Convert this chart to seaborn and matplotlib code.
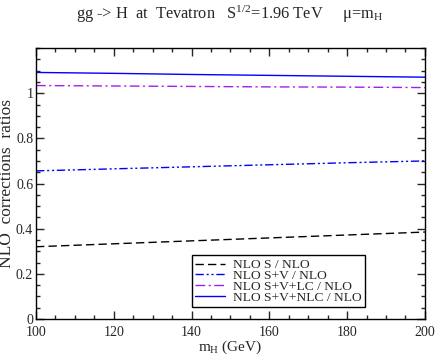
import pandas as pd
import numpy as np
import matplotlib
matplotlib.use("Agg")
import matplotlib.pyplot as plt
import seaborn as sns
from matplotlib.ticker import MultipleLocator

# Data
m_h = [100, 120, 140, 160, 180, 200]
nlo_s = [0.320, 0.333, 0.346, 0.359, 0.372, 0.385]
nlo_sv = [0.656, 0.665, 0.674, 0.683, 0.692, 0.700]
nlo_svlc = [1.034, 1.032, 1.030, 1.028, 1.027, 1.025]
nlo_svnlc = [1.092, 1.088, 1.083, 1.079, 1.075, 1.071]

labels = ['NLO S / NLO', 'NLO S+V / NLO', 'NLO S+V+LC / NLO', 'NLO S+V+NLC / NLO']
colors = ['black', '#0000ff', '#a020f0', '#0000ff']
dashes = [(6, 3), (6, 2, 1.5, 2, 1.5, 2), (7, 2.5, 1.5, 2.5), ()]

sns.set_style("ticks")
plt.rcParams['font.family'] = ['Liberation Serif', 'DejaVu Serif']
plt.rcParams['mathtext.fontset'] = 'custom'
plt.rcParams['mathtext.rm'] = 'Liberation Serif'
plt.rcParams['mathtext.it'] = 'Liberation Serif:italic'

fig = plt.figure(figsize=(4.36, 3.56), dpi=100)
ax = fig.add_axes([0.0826, 0.104, 0.892, 0.761])

series = [nlo_s, nlo_sv, nlo_svlc, nlo_svnlc]
for vals, lab, col, dsh in zip(series, labels, colors, dashes):
    sns.lineplot(x=m_h, y=vals, ax=ax, color=col, label=lab, linewidth=1.0)
    ln = ax.get_lines()[-1]
    if dsh:
        ln.set_dashes(dsh)

ax.set_xlim(100, 200)
ax.set_ylim(0, 1.2)
ax.xaxis.set_major_locator(MultipleLocator(20))
ax.xaxis.set_minor_locator(MultipleLocator(5))
ax.set_yticks([0, 0.2, 0.4, 0.6, 0.8, 1.0])
ax.set_yticklabels(['0', '0.2', '0.4', '0.6', '0.8', '1'])
ax.yaxis.set_minor_locator(MultipleLocator(0.05))
ax.tick_params(which='both', direction='in', top=True, right=True, labelsize=10)
ax.tick_params(axis='x', pad=5)
ax.tick_params(axis='y', pad=2)
ax.tick_params(which='major', length=6, width=1)
ax.tick_params(which='minor', length=3, width=1)
for sp in ax.spines.values():
    sp.set_linewidth(1.0)
    sp.set_color('black')

ax.set_xlabel(r'$\mathrm{m_H}$ (GeV)', fontsize=11, labelpad=0)
ax.set_ylabel('NLO  corrections  ratios', fontsize=12.5, labelpad=1)
fig.text(0.527, 0.96, r'gg -> H  at  Tevatron   S$^{\mathrm{1/2}}$=1.96 TeV     $\mathrm{\mu}$=m$_\mathrm{H}$',
         ha='center', va='center', fontsize=11.8)

leg = ax.legend(loc='lower left', bbox_to_anchor=(0.401, 0.044), fontsize=9.7,
                frameon=True, fancybox=False, edgecolor='black', framealpha=1,
                handlelength=2.2, handletextpad=0.6, borderpad=0.25, labelspacing=-0.12,
                borderaxespad=0)
leg.get_frame().set_linewidth(1.0)

fig.savefig('out.png', dpi=100)
